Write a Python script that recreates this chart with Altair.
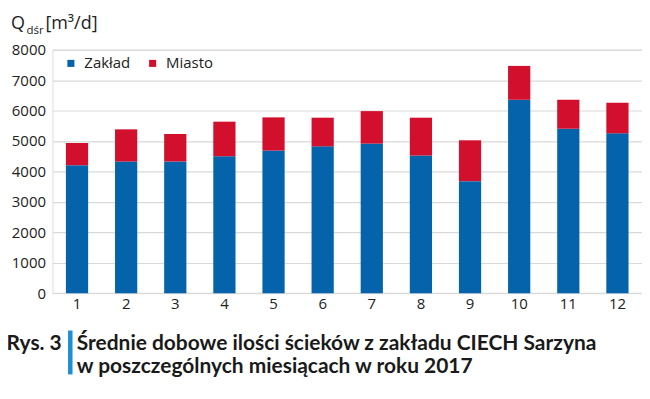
import altair as alt
import pandas as pd

months = [str(i) for i in range(1, 13)]
zaklad = [4205, 4325, 4325, 4500, 4686, 4826, 4915, 4522, 3681, 6355, 5405, 5252]
total = [4935, 5383, 5230, 5635, 5776, 5766, 5982, 5766, 5023, 7467, 6355, 6257]
miasto = [t - z for t, z in zip(total, zaklad)]
series = ["Zakład", "Miasto"]
colors = ["#0563ab", "#d2102e"]
y_ticks = [0, 1000, 2000, 3000, 4000, 5000, 6000, 7000, 8000]

rows = []
for m, z, mi in zip(months, zaklad, miasto):
    rows.append({"month": m, "series": series[0], "value": z, "ord": 0})
    rows.append({"month": m, "series": series[1], "value": mi, "ord": 1})
df = pd.DataFrame(rows)

FONT = "Open Sans"
CAP_FONT = "Lato"
W, H = 591.5, 244.3
OX, OY = 52.6, 49.2  # page coords of plot origin

bars = alt.Chart(df).mark_bar(size=22.3).encode(
    x=alt.X("month:N", sort=months, title=None,
            scale=alt.Scale(paddingInner=0.55, paddingOuter=0.275),
            axis=alt.Axis(labelAngle=0, ticks=False, domain=False, grid=False,
                          labelFont=FONT, labelFontSize=15, labelColor="#222222",
                          labelPadding=3)),
    y=alt.Y("value:Q", stack="zero", title=None,
            scale=alt.Scale(domain=[0, 8000], nice=False),
            axis=alt.Axis(values=y_ticks, format="d", ticks=False, domain=False,
                          gridColor="#d9d9d9", gridWidth=1.2,
                          labelFont=FONT, labelFontSize=15, labelColor="#222222",
                          labelPadding=7)),
    color=alt.Color("series:N", sort=series,
                    scale=alt.Scale(domain=series, range=colors),
                    legend=alt.Legend(title=None, orient="none", direction="horizontal",
                                      legendX=11, legendY=6, symbolType="square",
                                      symbolSize=50, symbolStrokeWidth=0,
                                      labelFont=FONT, labelFontSize=15,
                                      labelColor="#222222", columnPadding=14,
                                      labelOffset=6)),
    order=alt.Order("ord:Q"),
)

one = pd.DataFrame({"k": [0]})

def txt(s, px, py, size, font=FONT, weight="normal", color="#222222"):
    return alt.Chart(one).mark_text(
        text=s, align="left", baseline="alphabetic", font=font,
        fontSize=size, fontWeight=weight, color=color
    ).encode(x=alt.value(px - OX), y=alt.value(py - OY))

title_q = txt("Q", 11, 28.5, 18)
title_sub = txt("dśr", 26.5, 33, 11.5)
title_unit = txt("[m³/d]", 45.5, 28.5, 18)

cap1 = txt("Rys. 3", 6.5, 350.5, 21, font=CAP_FONT, weight="bold", color="#1a1a1a")
cap2 = txt("Średnie dobowe ilości ścieków z zakładu CIECH Sarzyna", 77, 350.5, 21,
           font=CAP_FONT, weight="bold", color="#1a1a1a")
cap3 = txt("w poszczególnych miesiącach w roku 2017", 77, 374, 21,
           font=CAP_FONT, weight="bold", color="#1a1a1a")
bar_rule = alt.Chart(one).mark_rule(color="#1b8fd4", strokeWidth=4.5).encode(
    x=alt.value(70.5 - OX), y=alt.value(331 - OY), y2=alt.value(375 - OY))

chart = alt.layer(
    bars, title_q, title_sub, title_unit, cap1, cap2, cap3, bar_rule
).properties(
    width=W, height=H,
    autosize=alt.AutoSizeParams(type="none"),
    padding={"left": OX - 8, "top": OY - 8, "right": 0, "bottom": 92},
).configure_view(stroke=None).configure(background="white")

chart.save("out.html", embed_options={"renderer": "svg", "actions": False})
